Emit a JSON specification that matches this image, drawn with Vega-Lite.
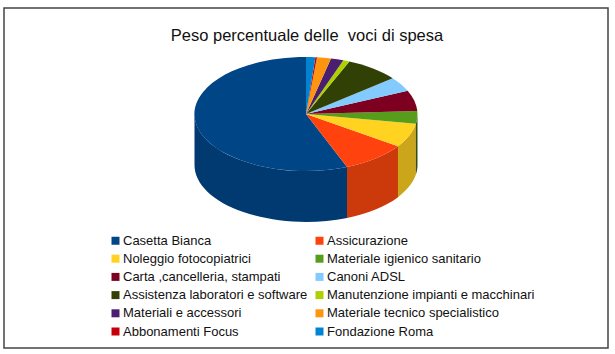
{"$schema":"https://vega.github.io/schema/vega-lite/v6.json","autosize":{"type":"none"},"padding":{"left":4,"top":8,"right":7,"bottom":6},"width":604,"height":340,"background":"white","view":{"stroke":"#444444","strokeWidth":1.5,"fill":"white"},
"title":{"text":"Peso percentuale delle \u00a0voci di spesa","font":"Liberation Sans","fontSize":16.5,"fontWeight":"normal","color":"#111111","anchor":"middle","offset":-36,"dx":1},
"data":{"values":[
{"voce":"Casetta Bianca","peso":56.0},{"voce":"Assicurazione","peso":9.4},{"voce":"Noleggio fotocopiatrici","peso":6.8},{"voce":"Materiale igienico sanitario","peso":3.6},{"voce":"Carta ,cancelleria, stampati","peso":5.9},{"voce":"Canoni ADSL","peso":4.1},{"voce":"Assistenza laboratori e software","peso":7.8},{"voce":"Manutenzione impianti e macchinari","peso":0.9},{"voce":"Materiali e accessori","peso":1.8},{"voce":"Materiale tecnico specialistico","peso":2.0},{"voce":"Abbonamenti Focus","peso":0.2},{"voce":"Fondazione Roma","peso":1.3}]},
"layer":[
{"mark":{"type":"point","filled":true,"opacity":1,"size":0,"shape":"square"},
"encoding":{"color":{"field":"voce","title":null,"scale":{"domain":["Casetta Bianca","Assicurazione","Noleggio fotocopiatrici","Materiale igienico sanitario","Carta ,cancelleria, stampati","Canoni ADSL","Assistenza laboratori e software","Manutenzione impianti e macchinari","Materiali e accessori","Materiale tecnico specialistico","Abbonamenti Focus","Fondazione Roma"],"range":["#004586","#ff420e","#ffd320","#579d1c","#7e0021","#83caff","#314004","#aecf00","#4b1f6f","#ff950e","#c5000b","#0084d1"]},
"legend":{"orient":"none","legendX":105,"legendY":226,"columns":2,"values":["Casetta Bianca","Noleggio fotocopiatrici","Carta ,cancelleria, stampati","Assistenza laboratori e software","Materiali e accessori","Abbonamenti Focus","Assicurazione","Materiale igienico sanitario","Canoni ADSL","Manutenzione impianti e macchinari","Materiale tecnico specialistico","Fondazione Roma"],"symbolType":"square","symbolSize":64,"symbolStrokeWidth":0,"labelFont":"Liberation Sans","labelFontSize":13,"labelColor":"#111111","labelLimit":300,"labelOffset":1,"rowPadding":4.2,"columnPadding":5,"gridAlign":"each"}}}},
{"transform":[{"filter":"indexof(['Casetta Bianca','Assicurazione','Noleggio fotocopiatrici','Materiale igienico sanitario'],datum.voce)>=0"}],
"mark":{"type":"point","filled":true,"opacity":1,"size":49729,"yOffset":-64},
"encoding":{"color":{"field":"voce","legend":null,"scale":{"domain":["Casetta Bianca","Assicurazione","Noleggio fotocopiatrici","Materiale igienico sanitario"],"range":["#003a70","#cc3a0b","#cba61a","#314f10"]}},
"shape":{"field":"voce","legend":null,"scale":{"domain":["Casetta Bianca","Assicurazione","Noleggio fotocopiatrici","Materiale igienico sanitario"],"range":[
"M0.3677,0.475A1,0.511 0 0 1 -1,0L-1,0.457A1,0.511 0 0 0 0.3677,0.932Z",
"M0.825,0.2887A1,0.511 0 0 1 0.3677,0.475L0.3677,0.932A1,0.511 0 0 0 0.825,0.7457Z",
"M0.9855,0.0867A1,0.511 0 0 1 0.825,0.2887L0.825,0.7457A1,0.511 0 0 0 0.9855,0.5437Z",
"M1,0A1,0.511 0 0 1 0.9855,0.0867L0.9855,0.5437A1,0.511 0 0 0 1,0.457Z"]}}}},
{"mark":{"type":"point","filled":true,"opacity":1,"size":49729,"yOffset":-64},
"encoding":{"tooltip":[{"field":"voce"},{"field":"peso"}],
"color":{"field":"voce","legend":null,"scale":{"domain":["Casetta Bianca","Assicurazione","Noleggio fotocopiatrici","Materiale igienico sanitario","Carta ,cancelleria, stampati","Canoni ADSL","Assistenza laboratori e software","Manutenzione impianti e macchinari","Materiali e accessori","Materiale tecnico specialistico","Abbonamenti Focus","Fondazione Roma"],"range":["#004586","#ff420e","#ffd320","#579d1c","#7e0021","#83caff","#314004","#aecf00","#4b1f6f","#ff950e","#c5000b","#0084d1"]}},
"shape":{"field":"voce","legend":null,"scale":{"domain":["Casetta Bianca","Assicurazione","Noleggio fotocopiatrici","Materiale igienico sanitario","Carta ,cancelleria, stampati","Canoni ADSL","Assistenza laboratori e software","Manutenzione impianti e macchinari","Materiali e accessori","Materiale tecnico specialistico","Abbonamenti Focus","Fondazione Roma"],"range":[
"M0,0L0.3677,0.475A1,0.511 0 1 1 0,-0.511Z",
"M0,0L0.825,0.2887A1,0.511 0 0 1 0.3677,0.475Z",
"M0,0L0.9855,0.0867A1,0.511 0 0 1 0.825,0.2887Z",
"M0,0L0.9985,-0.0267A1,0.511 0 0 1 0.9855,0.0867Z",
"M0,0L0.912,-0.2095A1,0.511 0 0 1 0.9985,-0.0267Z",
"M0,0L0.777,-0.3215A1,0.511 0 0 1 0.912,-0.2095Z",
"M0,0L0.389,-0.471A1,0.511 0 0 1 0.777,-0.3215Z",
"M0,0L0.335,-0.481A1,0.511 0 0 1 0.389,-0.471Z",
"M0,0L0.224,-0.498A1,0.511 0 0 1 0.335,-0.481Z",
"M0,0L0.099,-0.5085A1,0.511 0 0 1 0.224,-0.498Z",
"M0,0L0.084,-0.509A1,0.511 0 0 1 0.099,-0.5085Z",
"M0,0L0,-0.511A1,0.511 0 0 1 0.084,-0.509Z"]}}}}
],
"resolve":{"scale":{"color":"independent","shape":"independent"}}}
